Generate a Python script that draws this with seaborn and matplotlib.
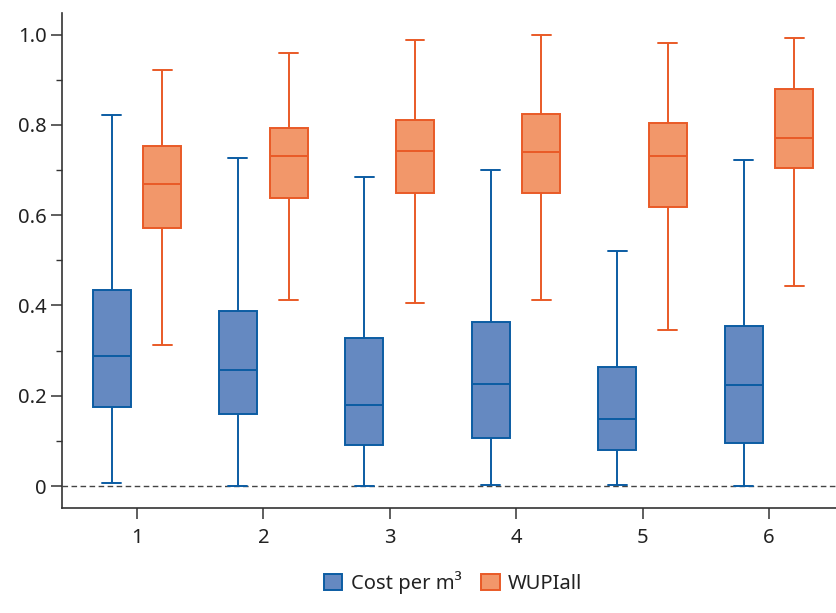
import numpy as np
import pandas as pd
import matplotlib
matplotlib.use("Agg")
import matplotlib.pyplot as plt
from matplotlib.patches import Patch, PathPatch
import seaborn as sns

# ── Data (five-number summaries) ──────────────────────────────
GROUPS = ["1", "2", "3", "4", "5", "6"]
SERIES = ["Cost per m³", "WUPIall"]

COST_MIN = [0.007, 0.0, 0.0, 0.003, 0.002, 0.0]
COST_Q1 = [0.174, 0.159, 0.091, 0.106, 0.080, 0.095]
COST_MED = [0.287, 0.256, 0.179, 0.226, 0.148, 0.224]
COST_Q3 = [0.435, 0.387, 0.328, 0.363, 0.263, 0.355]
COST_MAX = [0.821, 0.727, 0.684, 0.701, 0.521, 0.722]

WUPI_MIN = [0.312, 0.412, 0.405, 0.413, 0.345, 0.442]
WUPI_Q1 = [0.572, 0.639, 0.649, 0.648, 0.619, 0.704]
WUPI_MED = [0.670, 0.732, 0.742, 0.739, 0.732, 0.771]
WUPI_Q3 = [0.753, 0.792, 0.810, 0.824, 0.804, 0.880]
WUPI_MAX = [0.922, 0.959, 0.988, 1.000, 0.981, 0.993]

FILL = {"Cost per m³": "#6589C1", "WUPIall": "#F2976A"}
EDGE = {"Cost per m³": "#0B5CA3", "WUPIall": "#E95A27"}


def build_frame():
    rows = []
    for series, stats in [
        ("Cost per m³", (COST_MIN, COST_Q1, COST_MED, COST_Q3, COST_MAX)),
        ("WUPIall", (WUPI_MIN, WUPI_Q1, WUPI_MED, WUPI_Q3, WUPI_MAX)),
    ]:
        for i, g in enumerate(GROUPS):
            # 5 points -> linear quartiles land exactly on q1/median/q3
            for v in (s[i] for s in stats):
                rows.append({"group": g, "series": series, "value": v})
    return pd.DataFrame(rows)


def series_of(xs):
    # left of the category centre -> first series, right -> second
    x = float(np.mean(xs))
    return SERIES[0] if x - round(x) < 0 else SERIES[1]


df = build_frame()

sns.set_style("ticks")
plt.rcParams["font.family"] = ["Noto Sans", "DejaVu Sans"]

fig = plt.figure(figsize=(8.36, 6.13), dpi=100)
ax = fig.add_axes([0.074, 0.171, 0.926, 0.808])

sns.boxplot(
    data=df, x="group", y="value", hue="series", hue_order=SERIES,
    order=GROUPS, palette=FILL, linewidth=1.4,
    width=0.8, gap=0.25, whis=(0, 100), showfliers=False,
    saturation=1, legend=False, ax=ax,
)

# recolour outlines per series
for p in ax.patches:
    if isinstance(p, PathPatch):
        s = series_of(p.get_path().vertices[:, 0])
        p.set_edgecolor(EDGE[s])
for ln in ax.lines:
    xs = ln.get_xdata()
    if len(xs):
        ln.set_color(EDGE[series_of(xs)])

ax.axhline(0, ls=(0, (4, 2.5)), color="#444444", lw=1.0, zorder=0)

ax.set_xlim(-0.593, 5.53)
ax.set_ylim(-0.049, 1.048)
ax.set_yticks([0, 0.2, 0.4, 0.6, 0.8, 1.0])
ax.set_yticklabels(["0", "0.2", "0.4", "0.6", "0.8", "1.0"])
ax.set_yticks(np.arange(0.1, 1.0, 0.2), minor=True)
ax.set_xlabel("")
ax.set_ylabel("")

sns.despine(ax=ax)
for sp in ["left", "bottom"]:
    ax.spines[sp].set_color("#333333")
    ax.spines[sp].set_linewidth(1.2)
ax.tick_params(axis="both", which="major", length=8, width=1.1,
               color="#333333", labelsize=14.5, labelcolor="#222222")
ax.tick_params(axis="y", which="minor", length=4.5, width=1.0, color="#333333")
ax.tick_params(axis="y", pad=3)
ax.tick_params(axis="x", pad=6)

handles = [Patch(facecolor=FILL[s], edgecolor=EDGE[s], linewidth=1.4, label=s)
           for s in SERIES]
fig.legend(handles=handles, loc="center", bbox_to_anchor=(0.542, 0.05),
           ncol=2, frameon=False, fontsize=14.5, handlelength=0.9,
           handleheight=0.9, handletextpad=0.4, columnspacing=1.0,
           labelcolor="#222222")

fig.savefig("out.png", dpi=100)
